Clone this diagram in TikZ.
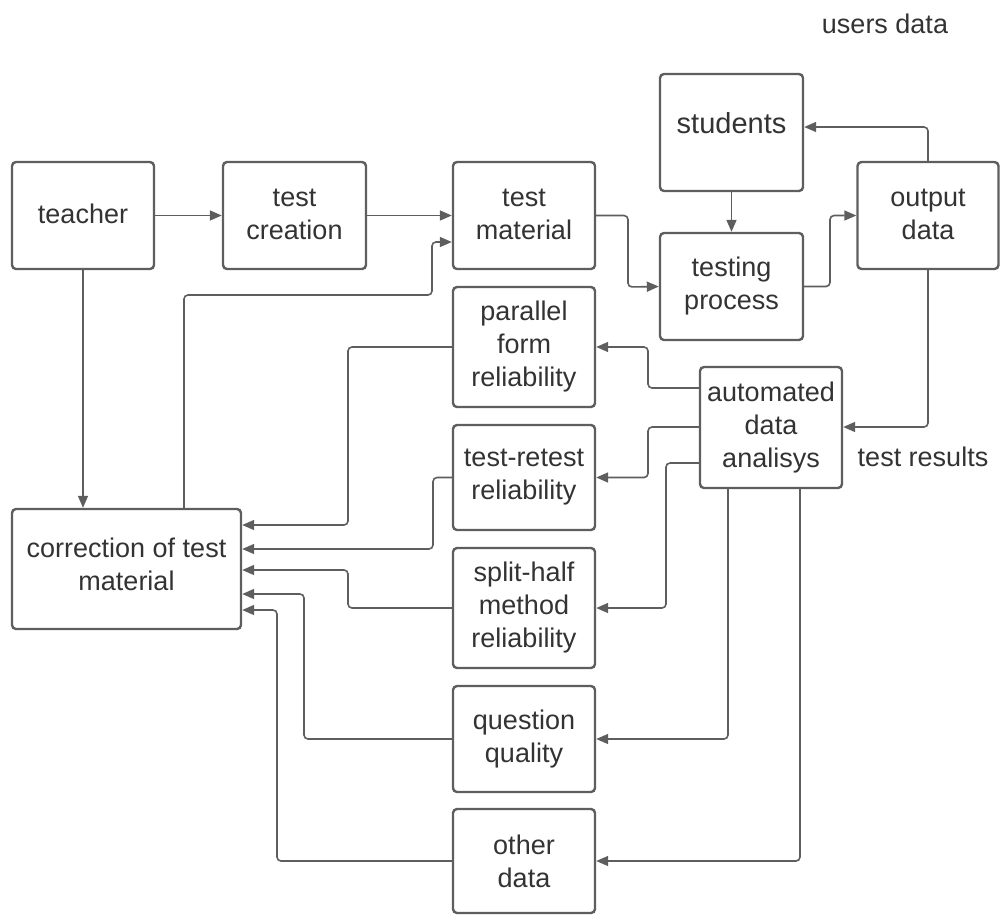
\documentclass[tikz,border=0pt]{standalone}
\usepackage{fontspec}
\setmainfont{Liberation Sans}
\usetikzlibrary{arrows.meta}
\definecolor{lc}{HTML}{5E5E5E}
\definecolor{tc}{HTML}{333333}
\begin{document}
\begin{tikzpicture}[x=1pt,y=-1pt,
  box/.style={draw=lc, line width=2.4pt, rounded corners=4pt, align=center, inner sep=0pt,
    text=tc, font=\fontsize{27}{33}\selectfont, fill=white},
  lbl/.style={text=tc, font=\fontsize{27}{33}\selectfont, inner sep=0pt},
  arr/.style={draw=lc, line width=1.6pt, rounded corners=4pt, -{Triangle[length=12pt,width=10pt]}},
  ln/.style={draw=lc, line width=1.6pt, rounded corners=4pt}]
\useasboundingbox (0,0) rectangle (1000,914);
\node[box, minimum width=142pt, minimum height=107pt, text depth=3pt] (teacher) at (83,215.5) {teacher};
\node[box, minimum width=143pt, minimum height=107pt, text depth=3pt] (tc) at (294.5,215.5) {test\\creation};
\node[box, minimum width=142pt, minimum height=107pt, text depth=3pt] (tm) at (524,215.5) {test\\material};
\node[box, minimum width=143pt, minimum height=117pt, text depth=20pt, font=\fontsize{29}{35}\selectfont] (stu) at (731.5,132.5) {students};
\node[box, minimum width=141pt, minimum height=107pt, text depth=3pt] (od) at (928,215.5) {output\\data};
\node[box, minimum width=143pt, minimum height=107pt] (tp) at (731.5,286.5) {testing\\process};
\node[box, minimum width=142pt, minimum height=120pt] (pf) at (524,347) {parallel\\form\\reliability};
\node[box, minimum width=142pt, minimum height=121pt] (ada) at (771,427.5) {automated\\data\\analisys};
\node[box, minimum width=142pt, minimum height=105pt] (tr) at (524,477.5) {test-retest\\reliability};
\node[box, minimum width=229pt, minimum height=120pt, text depth=9pt] (corr) at (126.5,569) {correction of test\\material};
\node[box, minimum width=142pt, minimum height=120pt] (sh) at (524,608) {split-half\\method\\reliability};
\node[box, minimum width=142pt, minimum height=106pt] (qq) at (524,739) {question\\quality};
\node[box, minimum width=142pt, minimum height=104pt] (oth) at (524,861) {other\\data};
\node[lbl] (ud) at (885,24) {users data};
\node[lbl] (trs) at (923,457) {test results};
% connectors
\draw[arr] (teacher.east) -- (tc.west);
\draw[arr] (tc.east) -- (tm.west);
\draw[arr] (corr.north -| 184,0) |- (432,295) |- (tm.west |- 0,242);
\draw[arr] (teacher.south) -- (corr.north -| teacher.south);
\draw[arr] (tm.east) -| (628,287) -- (tp.west);
\draw[arr] (stu.south) -- (tp.north);
\draw[arr] (tp.east) -| (830,215.5) -- (od.west);
\draw[arr] (od.north) |- (stu.east |- 0,127);
\draw[arr] (od.south) |- (ada.east |- 0,427);
\draw[arr] (ada.west |- 0,388) -| (648,347) -- (pf.east);
\draw[arr] (ada.west |- 0,427) -| (648,477.5) -- (tr.east);
\draw[arr] (ada.west |- 0,463) -| (666,608) -- (sh.east);
\draw[arr] (ada.south -| 728,0) |- (qq.east);
\draw[arr] (ada.south -| 800,0) |- (oth.east);
\draw[arr] (pf.west) -| (348,525) -- (corr.east |- 0,525);
\draw[arr] (tr.west) -| (433,549) -- (corr.east |- 0,549);
\draw[arr] (sh.west) -| (348,570) -- (corr.east |- 0,570);
\draw[arr] (qq.west) -| (304,594) -- (corr.east |- 0,594);
\draw[arr] (oth.west) -| (277,610) -- (corr.east |- 0,610);
\end{tikzpicture}
\end{document}
